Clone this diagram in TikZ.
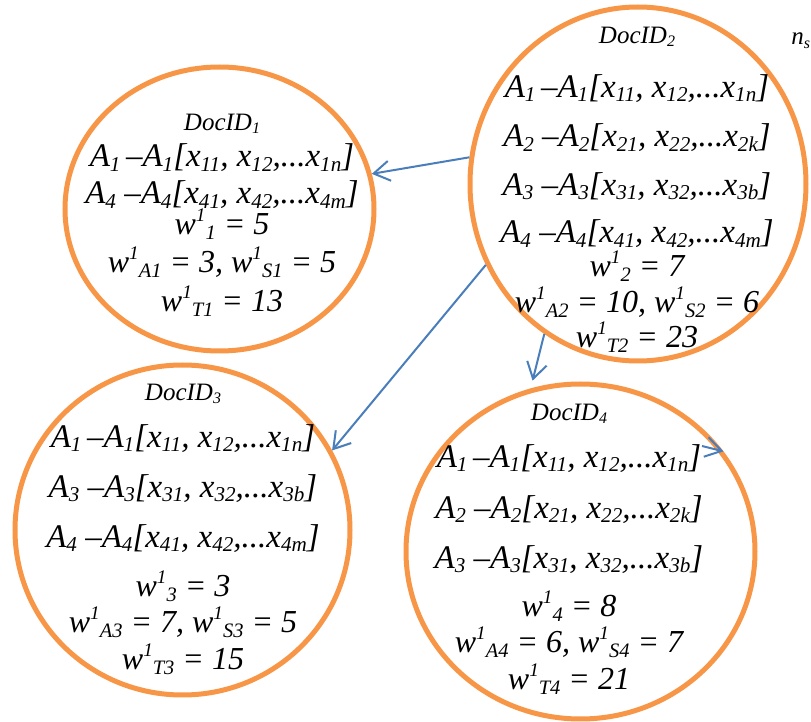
\documentclass[tikz,border=0pt]{standalone}
\usepackage{fontspec}
\setmainfont{Liberation Serif}
\usetikzlibrary{arrows.meta,shapes.geometric}

\definecolor{docorange}{HTML}{F79646}
\definecolor{linkblue}{HTML}{4A7EBB}

\newcommand{\dsub}[1]{\raisebox{-0.15em}{\scalebox{0.64}{#1}}}
\newcommand{\dsup}[1]{\raisebox{0.42em}{\scalebox{0.6}{#1}}}
\newcommand{\idfont}{\fontsize{12.5}{0}\selectfont}
\newcommand{\wfont}{\fontsize{16}{0}\selectfont}

\begin{document}
\begin{tikzpicture}[x=0.5pt,y=-0.5pt,
  doc/.style={ellipse,draw=docorange,line width=2.5pt,inner sep=0pt},
  txt/.style={anchor=base,align=center,inner sep=0pt,
    font={\itshape\fontsize{16.5}{0}\selectfont\lineskiplimit=-100pt\lineskip=0pt}},
  link/.style={draw=linkblue,line width=1pt,-{Straight Barb[length=8pt,width=10pt]}}]
\useasboundingbox (0,0) rectangle (811,722);

% documents
\node[doc,minimum width=154.5pt,minimum height=142pt] (doc1) at (219.5,209) {};
\node[doc,minimum width=168pt,minimum height=177pt] (doc2) at (638,184) {};
\node[doc,minimum width=167.5pt,minimum height=165pt] (doc3) at (182.5,530) {};
\node[doc,minimum width=174.5pt,minimum height=167.5pt] (doc4) at (580.5,551.5) {};

% base anchor sits on the last line
\node[txt] (txt1) at (222,312) {{\idfont DocID\dsub{1}}\\[18.5pt]
  A\dsub{1}\,–A\dsub{1}[x\dsub{11}, x\dsub{12},...x\dsub{1n}]\\[18.5pt]
  A\dsub{4} –A\dsub{4}[x\dsub{41}, x\dsub{42},...x\dsub{4m}]\\[15.5pt]
  {\wfont w\dsup{1}\dsub{1} = 5}\\[19pt]
  {\wfont w\dsup{1}\dsub{A1} = 3, w\dsup{1}\dsub{S1} = 5}\\[19.5pt]
  {\wfont w\dsup{1}\dsub{T1} = 13}};

\node[txt] (txt2) at (637,348) {{\idfont DocID\dsub{2}}\\[27pt]
  A\dsub{1}\,–A\dsub{1}[x\dsub{11}, x\dsub{12},...x\dsub{1n}]\\[25pt]
  A\dsub{2} –A\dsub{2}[x\dsub{21}, x\dsub{22},...x\dsub{2k}]\\[24pt]
  A\dsub{3} –A\dsub{3}[x\dsub{31}, x\dsub{32},...x\dsub{3b}]\\[24pt]
  A\dsub{4} –A\dsub{4}[x\dsub{41}, x\dsub{42},...x\dsub{4m}]\\[17pt]
  {\wfont w\dsup{1}\dsub{2} = 7}\\[18pt]
  {\wfont w\dsup{1}\dsub{A2} = 10, w\dsup{1}\dsub{S2} = 6}\\[17.5pt]
  {\wfont w\dsup{1}\dsub{T2} = 23}};

\node[txt] (txt3) at (183,670) {{\idfont DocID\dsub{3}}\\[23.5pt]
  A\dsub{1}\,–A\dsub{1}[x\dsub{11}, x\dsub{12},...x\dsub{1n}]\\[25pt]
  A\dsub{3} –A\dsub{3}[x\dsub{31}, x\dsub{32},...x\dsub{3b}]\\[25pt]
  A\dsub{4} –A\dsub{4}[x\dsub{41}, x\dsub{42},...x\dsub{4m}]\\[25pt]
  {\wfont w\dsup{1}\dsub{3} = 3}\\[18pt]
  {\wfont w\dsup{1}\dsub{A3} = 7, w\dsup{1}\dsub{S3} = 5}\\[18.5pt]
  {\wfont w\dsup{1}\dsub{T3} = 15}};

\node[txt] (txt4) at (569,690) {{\idfont DocID\dsub{4}}\\[23.5pt]
  A\dsub{1}\,–A\dsub{1}[x\dsub{11}, x\dsub{12},...x\dsub{1n}]\\[25.5pt]
  A\dsub{2} –A\dsub{2}[x\dsub{21}, x\dsub{22},...x\dsub{2k}]\\[25pt]
  A\dsub{3} –A\dsub{3}[x\dsub{31}, x\dsub{32},...x\dsub{3b}]\\[24.5pt]
  {\wfont w\dsup{1}\dsub{4} = 8}\\[18pt]
  {\wfont w\dsup{1}\dsub{A4} = 6, w\dsup{1}\dsub{S4} = 7}\\[18.5pt]
  {\wfont w\dsup{1}\dsub{T4} = 21}};

\node[anchor=base west,inner sep=0pt,font=\itshape\idfont] (ns) at (791,45) {n\dsub{s}};

% links
\coordinate (stub) at (702,446);
\draw[link] (doc2.171) -- (doc1.13);
\draw[link] (doc2.208) -- (doc3.28);
\draw[link,shorten >=4pt] (doc2.238) -- (doc4.107);
\draw[link] (stub) -- (doc4.35);
\end{tikzpicture}
\end{document}
